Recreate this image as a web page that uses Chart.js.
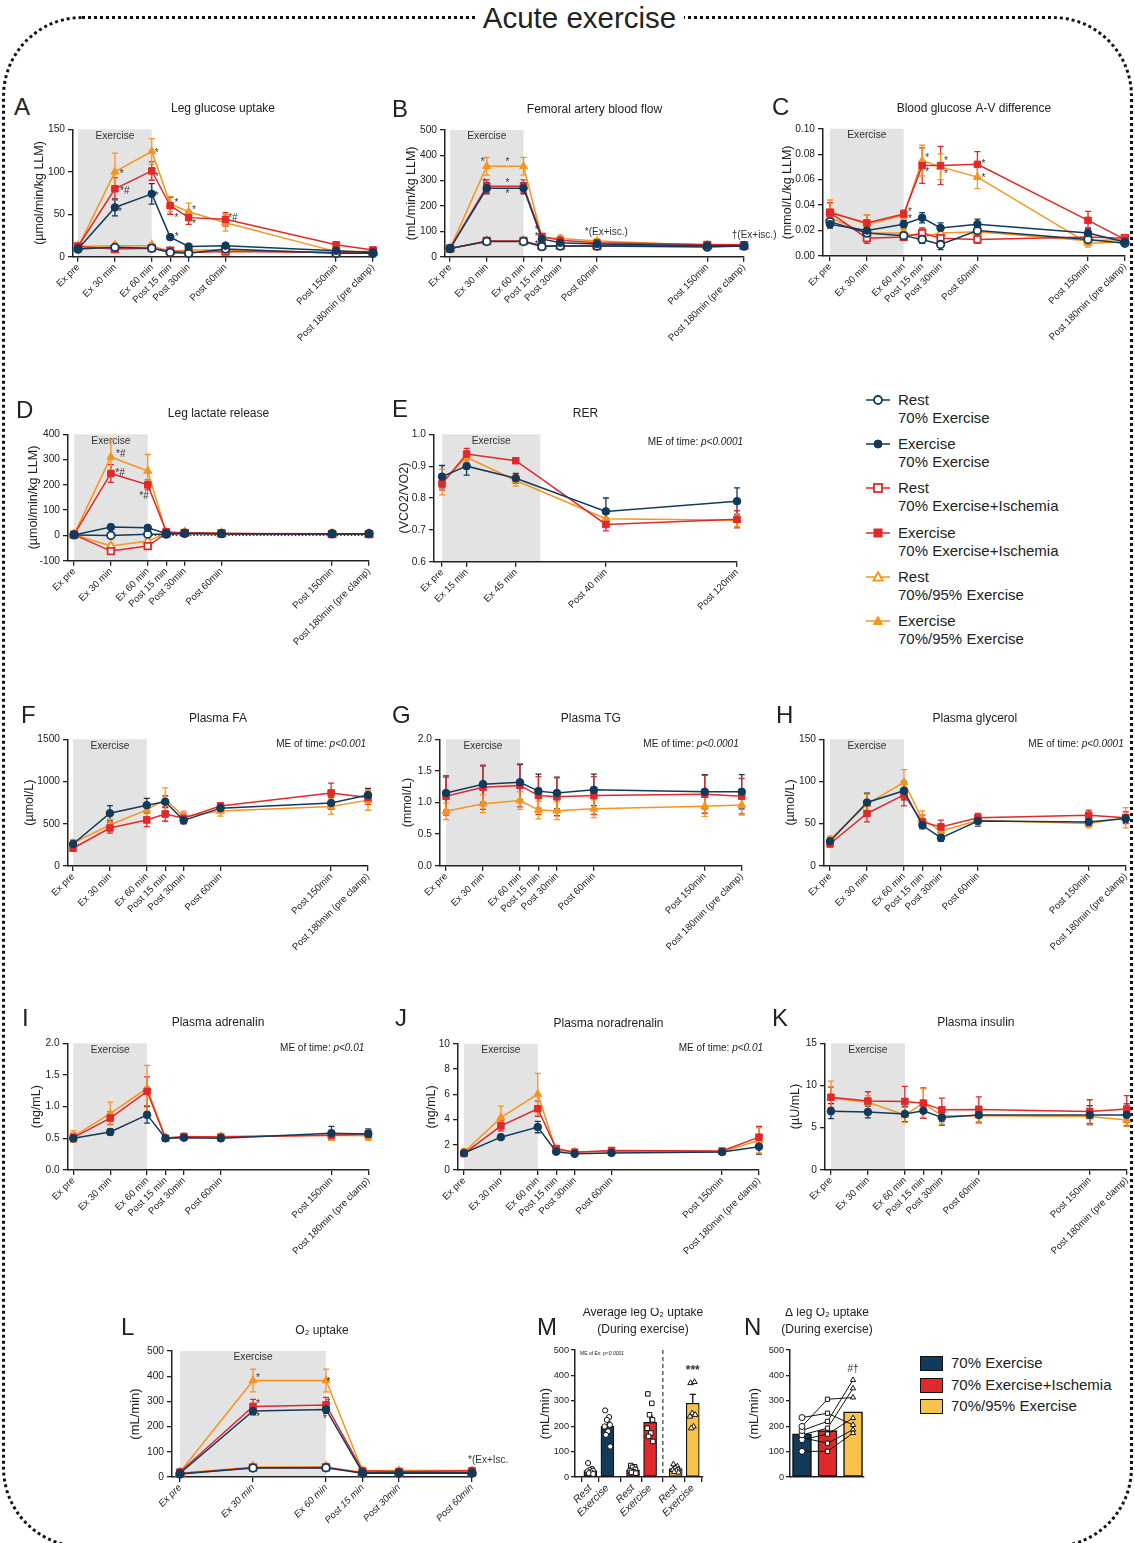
<!DOCTYPE html>
<html>
<head>
<meta charset="utf-8">
<script src="https://cdn.jsdelivr.net/npm/chart.js@4.4.1/dist/chart.umd.min.js"></script>
<style>
  body { margin: 0; background: #fff; font-family: "Liberation Sans", Arial, sans-serif; color: #222; }
  #page { position: relative; width: 1135px; height: 1543px; overflow: hidden; }
  .frame { position: absolute; left: 2px; top: 16px; width: 1125px; height: 1526px; border: 3px dotted #111; border-radius: 80px; }
  .head { position: absolute; left: 12px; top: 0; width: 1135px; text-align: center; font-size: 29.5px; line-height: 36px; }
  .head span { background: #fff; padding: 0 8px; }
  .letter { position: absolute; font-size: 24px; line-height: 24px; }
  canvas { position: absolute; }
  .lg { position: absolute; font-size: 15px; line-height: 18px; white-space: nowrap; }
  .box { position: absolute; width: 21px; height: 13px; border: 1px solid #111; }
</style>
</head>
<body>
<div id="page">
  <div class="frame"></div>
  <div class="head"><span>Acute exercise</span></div>
</div>
<script>
// time axes
const timeLabels = ['Ex pre', 'Ex 30 min', 'Ex 60 min', 'Post 15 min', 'Post 30min', 'Post 60min', 'Post 150min', 'Post 180min (pre clamp)'];
const timeMin = [0, 30, 60, 75, 90, 120, 210, 240];
const rerLabels = ['Ex pre', 'Ex 15 min', 'Ex 45 min', 'Post 40 min', 'Post 120min'];
const rerMin = [0, 15, 45, 100, 180];
const o2Labels = ['Ex pre', 'Ex 30 min', 'Ex 60 min', 'Post 15 min', 'Post 30min', 'Post 60min'];
const o2Min = [0, 30, 60, 75, 90, 120];

// A leg glucose uptake
const glucRest70 = [9, 11, 10, 5, 4, 9, 4, 4];
const glucRest70Err = [2, 2, 2, 1, 1, 2, 1, 1];
const glucEx70 = [9, 58, 74, 23, 12, 13, 7, 5];
const glucEx70Err = [2, 10, 12, 3, 2, 2, 2, 1];
const glucRestIsch = [12, 9, 10, 7, 5, 6, 5, 6];
const glucRestIschErr = [2, 2, 2, 2, 1, 2, 1, 1];
const glucExIsch = [12, 80, 101, 60, 46, 44, 14, 8];
const glucExIschErr = [2, 13, 11, 10, 8, 8, 3, 2];
const glucRest95 = [12, 13, 13, 6, 8, 8, 5, 5];
const glucRest95Err = [2, 3, 3, 2, 2, 2, 1, 1];
const glucEx95 = [11, 100, 124, 62, 53, 40, 6, 6];
const glucEx95Err = [2, 22, 15, 9, 10, 10, 2, 2];

// B femoral artery blood flow
const flowRest70 = [32, 60, 60, 40, 42, 42, 38, 42];
const flowEx70 = [32, 270, 270, 70, 55, 50, 43, 43];
const flowRestIsch = [32, 62, 62, 42, 43, 42, 45, 45];
const flowExIsch = [33, 278, 278, 80, 65, 55, 48, 47];
const flowRest95 = [32, 61, 61, 42, 42, 42, 42, 40];
const flowEx95 = [32, 357, 357, 75, 72, 62, 45, 42];
const flowRestErr = [4, 5, 5, 4, 4, 4, 4, 4];
const flowEx70Err = [4, 22, 22, 10, 8, 6, 5, 5];
const flowExIschErr = [4, 25, 25, 10, 10, 8, 6, 6];
const flowEx95Err = [4, 35, 35, 10, 12, 8, 6, 6];

// C blood glucose A-V difference
const avRest70 = [0.027, 0.018, 0.016, 0.013, 0.009, 0.020, 0.013, 0.010];
const avRest70Err = [0.003, 0.003, 0.003, 0.003, 0.004, 0.004, 0.003, 0.001];
const avEx70 = [0.025, 0.020, 0.025, 0.030, 0.022, 0.025, 0.018, 0.011];
const avEx70Err = [0.003, 0.003, 0.003, 0.004, 0.004, 0.004, 0.004, 0.001];
const avRestIsch = [0.034, 0.014, 0.015, 0.018, 0.014, 0.013, 0.015, 0.014];
const avRestIschErr = [0.008, 0.004, 0.003, 0.004, 0.004, 0.003, 0.003, 0.002];
const avExIsch = [0.034, 0.026, 0.033, 0.071, 0.071, 0.072, 0.028, 0.013];
const avExIschErr = [0.008, 0.006, 0.003, 0.014, 0.015, 0.010, 0.007, 0.003];
const avRest95 = [0.030, 0.018, 0.018, 0.015, 0.018, 0.019, 0.012, 0.013];
const avRest95Err = [0.005, 0.003, 0.003, 0.003, 0.003, 0.003, 0.003, 0.002];
const avEx95 = [0.035, 0.025, 0.032, 0.075, 0.070, 0.062, 0.010, 0.011];
const avEx95Err = [0.009, 0.007, 0.003, 0.012, 0.010, 0.009, 0.003, 0.003];

// D leg lactate release
const lactRest70 = [2, 0, 5, 5, 8, 7, 7, 7];
const lactRest70Err = [3, 4, 4, 3, 3, 3, 3, 3];
const lactEx70 = [2, 33, 30, 8, 8, 7, 7, 7];
const lactEx70Err = [3, 8, 6, 4, 4, 3, 3, 3];
const lactRestIsch = [3, -62, -42, 8, 10, 8, 5, 5];
const lactRestIschErr = [3, 8, 8, 4, 4, 3, 3, 3];
const lactExIsch = [3, 245, 200, 15, 10, 8, 7, 6];
const lactExIschErr = [3, 35, 20, 6, 4, 3, 3, 3];
const lactRest95 = [3, -42, -22, 8, 10, 8, 5, 5];
const lactRest95Err = [3, 10, 8, 4, 4, 3, 3, 3];
const lactEx95 = [3, 310, 255, 10, 12, 8, 6, 6];
const lactEx95Err = [3, 70, 65, 6, 5, 3, 3, 3];

// E RER
const rer70 = [0.867, 0.900, 0.862, 0.758, 0.790];
const rer70Err = [0.035, 0.028, 0.015, 0.042, 0.042];
const rerIsch = [0.845, 0.938, 0.917, 0.717, 0.733];
const rerIschErr = [0.02, 0.018, 0.005, 0.02, 0.027];
const rer95 = [0.850, 0.928, 0.855, 0.735, 0.730];
const rer95Err = [0.04, 0.015, 0.018, 0.02, 0.02];

// F plasma FA
const fa70 = [260, 625, 720, 760, 540, 685, 745, 840];
const fa70Err = [45, 90, 80, 70, 40, 50, 70, 80];
const faIsch = [210, 450, 545, 615, 565, 710, 865, 810];
const faIschErr = [30, 60, 80, 85, 60, 40, 115, 80];
const fa95 = [270, 485, 665, 790, 585, 650, 705, 780];
const fa95Err = [40, 70, 80, 135, 65, 60, 90, 120];

// G plasma TG
const tg70 = [1.15, 1.29, 1.32, 1.18, 1.15, 1.20, 1.17, 1.17];
const tg70Err = [0.27, 0.29, 0.28, 0.27, 0.25, 0.25, 0.27, 0.27];
const tgIsch = [1.10, 1.24, 1.27, 1.11, 1.09, 1.11, 1.13, 1.10];
const tgIschErr = [0.30, 0.35, 0.34, 0.30, 0.30, 0.30, 0.30, 0.28];
const tg95 = [0.86, 0.98, 1.03, 0.88, 0.87, 0.90, 0.94, 0.96];
const tg95Err = [0.13, 0.14, 0.14, 0.14, 0.14, 0.14, 0.16, 0.16];

// H plasma glycerol
const glyc70 = [29, 75, 89, 48, 33, 53, 52, 56];
const glyc70Err = [4, 11, 11, 4, 4, 6, 5, 5];
const glycIsch = [26, 62, 84, 52, 46, 57, 60, 57];
const glycIschErr = [4, 10, 13, 8, 8, 5, 6, 7];
const glyc95 = [31, 73, 99, 55, 41, 54, 50, 57];
const glyc95Err = [4, 12, 15, 10, 6, 6, 5, 12];

// I plasma adrenalin
const adr70 = [0.50, 0.60, 0.87, 0.50, 0.51, 0.50, 0.58, 0.57];
const adr70Err = [0.05, 0.05, 0.13, 0.03, 0.04, 0.04, 0.11, 0.08];
const adrIsch = [0.51, 0.82, 1.24, 0.50, 0.53, 0.52, 0.55, 0.57];
const adrIschErr = [0.07, 0.10, 0.23, 0.03, 0.03, 0.03, 0.06, 0.06];
const adr95 = [0.53, 0.89, 1.29, 0.51, 0.52, 0.53, 0.55, 0.54];
const adr95Err = [0.09, 0.18, 0.36, 0.03, 0.03, 0.03, 0.08, 0.07];

// J plasma noradrenalin
const nor70 = [1.35, 2.6, 3.4, 1.45, 1.28, 1.35, 1.42, 1.85];
const nor70Err = [0.15, 0.15, 0.45, 0.15, 0.12, 0.15, 0.15, 0.6];
const norIsch = [1.3, 3.5, 4.85, 1.7, 1.4, 1.55, 1.5, 2.6];
const norIschErr = [0.2, 0.4, 0.6, 0.2, 0.2, 0.2, 0.15, 0.85];
const nor95 = [1.4, 4.15, 6.0, 1.55, 1.45, 1.45, 1.45, 2.35];
const nor95Err = [0.3, 0.9, 1.65, 0.25, 0.25, 0.2, 0.15, 1.0];

// K plasma insulin
const ins70 = [6.95, 6.85, 6.6, 7.0, 6.2, 6.5, 6.5, 6.5];
const ins70Err = [0.9, 0.7, 0.9, 0.9, 0.9, 1.0, 1.1, 1.3];
const insIsch = [8.6, 8.15, 8.1, 7.9, 7.1, 7.15, 6.9, 7.2];
const insIschErr = [1.2, 1.1, 1.8, 1.8, 1.4, 1.5, 1.4, 1.6];
const ins95 = [8.5, 8.0, 6.5, 7.9, 6.4, 6.4, 6.3, 5.9];
const ins95Err = [2.0, 0.8, 0.9, 1.7, 1.0, 0.9, 1.0, 0.8];

// L O2 uptake
const o2Rest70 = [12, 36, 37, 15, 15, 15];
const o2Ex70 = [15, 262, 268, 18, 18, 18];
const o2RestIsch = [14, 37, 38, 17, 17, 17];
const o2ExIsch = [20, 280, 286, 25, 22, 25];
const o2Rest95 = [15, 40, 40, 18, 18, 18];
const o2Ex95 = [20, 383, 383, 25, 26, 26];
const o2RestErr = [3, 5, 5, 3, 3, 3];
const o2Ex70Err = [4, 15, 15, 5, 4, 4];
const o2ExIschErr = [5, 28, 30, 5, 4, 4];
const o2Ex95Err = [5, 45, 45, 5, 5, 4];

// M average leg O2 uptake during exercise
const mLabels = ['Rest', 'Exercise', 'Rest', 'Exercise', 'Rest', 'Exercise'];
const mMeans = [25, 200, 28, 215, 33, 290];
const mSem = [5, 20, 5, 25, 6, 35];
const mRest70Pts = [55, 32, 28, 25, 22, 18, 15, 12];
const mEx70Pts = [262, 236, 225, 205, 199, 180, 166, 120];
const mRestIschPts = [45, 40, 38, 30, 25, 20, 18, 15];
const mExIschPts = [327, 290, 245, 225, 192, 173, 160, 140];
const mRest95Pts = [50, 42, 35, 30, 28, 25, 20, 18];
const mEx95Pts = [370, 374, 251, 245, 238, 199, 192];

// N delta leg O2 uptake (paired by subject index)
const nMeans = [170, 183, 257];
const nEx70 = [234, 199, 183, 166, 147, 101, 155];
const nExIsch = [251, 306, 219, 192, 169, 101, 133];
const nEx95 = [205, 313, 382, 349, 232, 173, 186];

const legendLines = [['Rest', '70% Exercise'], ['Exercise', '70% Exercise'], ['Rest', '70% Exercise+Ischemia'],
  ['Exercise', '70% Exercise+Ischemia'], ['Rest', '70%/95% Exercise'], ['Exercise', '70%/95% Exercise']];
const barLegend = ['70% Exercise', '70% Exercise+Ischemia', '70%/95% Exercise'];

const FONT = '"Liberation Sans", Arial, sans-serif';
const INK = '#222';
const NAVY = '#123a5a', RED = '#e0292b', ORANGE = '#f7941d', GOLD = '#f8c24c';
const page = document.getElementById('page');

// shading, error bars, annotations
const decor = {
  id: 'decor',
  beforeDraw(c, args, o) {
    if (!o.shade) return;
    const {ctx, chartArea: a} = c, x = c.scales.x;
    const x0 = x.getPixelForValue(o.shade[0]), x1 = x.getPixelForValue(o.shade[1]);
    ctx.save();
    ctx.fillStyle = '#e3e3e3';
    ctx.fillRect(x0, a.top, x1 - x0, a.bottom - a.top);
    ctx.fillStyle = '#333';
    ctx.font = '10.2px ' + FONT;
    ctx.textAlign = 'center';
    ctx.textBaseline = 'middle';
    ctx.fillText('Exercise', (x0 + x1) / 2, a.top + 6.5);
    ctx.restore();
  },
  beforeDatasetsDraw(c, args, o) {
    const {ctx, chartArea: a} = c, x = c.scales.x, y = c.scales.y;
    ctx.save();
    if (o.zeroLine) {
      ctx.strokeStyle = '#333'; ctx.lineWidth = 1.2; ctx.setLineDash([1.5, 2]);
      ctx.beginPath();
      ctx.moveTo(x.getPixelForValue(o.zeroLine[0]), y.getPixelForValue(0));
      ctx.lineTo(x.getPixelForValue(o.zeroLine[1]), y.getPixelForValue(0));
      ctx.stroke(); ctx.setLineDash([]);
    }
    if (o.divider != null) {
      const px = x.getPixelForValue(o.divider);
      ctx.strokeStyle = '#111'; ctx.lineWidth = 1; ctx.setLineDash([4, 3]);
      ctx.beginPath(); ctx.moveTo(px, a.top); ctx.lineTo(px, a.bottom); ctx.stroke();
      ctx.setLineDash([]);
    }
    c.data.datasets.forEach((d, i) => {
      if (!d.err) return;
      const meta = c.getDatasetMeta(i);
      ctx.strokeStyle = d.errColor || d.borderColor;
      ctx.lineWidth = 1.3;
      meta.data.forEach((el, j) => {
        const e = d.err[j];
        if (!e) return;
        const v = d.data[j].y, px = el.x;
        const t = y.getPixelForValue(v + e), b = y.getPixelForValue(v - e);
        const cap = d.cap || 3;
        ctx.beginPath();
        ctx.moveTo(px, t); ctx.lineTo(px, b);
        ctx.moveTo(px - cap, t); ctx.lineTo(px + cap, t);
        ctx.moveTo(px - cap, b); ctx.lineTo(px + cap, b);
        ctx.stroke();
      });
    });
    ctx.restore();
  },
  afterDraw(c, args, o) {
    const {ctx, chartArea: a} = c, x = c.scales.x, y = c.scales.y;
    ctx.save();
    ctx.fillStyle = INK;
    ctx.textBaseline = 'middle';
    if (o.title) {
      const lines = [].concat(o.title);
      ctx.font = '12px ' + FONT;
      ctx.textAlign = 'center';
      lines.forEach((t, k) => ctx.fillText(t, (a.left + a.right) / 2 + (o.titleDx || 0), a.top - 20.5 - (lines.length - 1 - k) * 17));
    }
    if (o.me) {
      const sz = o.meSize || 10;
      ctx.font = 'italic ' + sz + 'px ' + FONT;
      const wi = ctx.measureText(o.me[1]).width;
      ctx.font = sz + 'px ' + FONT;
      const wp = ctx.measureText(o.me[0]).width;
      const xr = o.meLeft ? a.left + 5 + wp + wi : a.right + (o.meDx || 0);
      const yy = a.top + (o.meDy || 8);
      ctx.textAlign = 'right';
      ctx.fillText(o.me[0], xr - wi, yy);
      ctx.font = 'italic ' + sz + 'px ' + FONT;
      ctx.fillText(o.me[1], xr, yy);
    }
    (o.annos || []).forEach(([vx, vy, txt, align, bold]) => {
      ctx.font = (bold ? 'bold 12px ' : '10px ') + FONT;
      ctx.fillStyle = '#333';
      ctx.textAlign = align || 'center';
      ctx.fillText(txt, x.getPixelForValue(vx), y.getPixelForValue(vy) + (txt[0] === '*' && !align ? 2 : 0));
    });
    ctx.restore();
  }
};
Chart.register(decor);

function series(xs, vals, err, color, shape, open) {
  return {
    data: xs.map((t, i) => ({x: t, y: vals[i]})),
    err: err,
    borderColor: color,
    backgroundColor: color,
    borderWidth: 1.5,
    pointStyle: shape,
    pointRadius: shape === 'circle' ? 3.8 : 4.6,
    pointBackgroundColor: open ? '#fff' : color,
    pointBorderColor: color,
    pointBorderWidth: open ? 1.8 : 1,
    tension: 0,
    clip: false
  };
}

function place(box) {
  const cv = document.createElement('canvas');
  cv.width = box.w; cv.height = box.h;
  cv.style.left = box.l + 'px';
  cv.style.top = box.t + 'px';
  page.appendChild(cv);
  return cv;
}

function makeChart(p) {
  const a = p.area;
  const titleLH = p.ytitleSize * 1.2;
  const box = {l: Math.round(p.ytitleX - titleLH / 2), t: Math.round(a.top - 42)};
  box.w = Math.round(a.right + (p.padR || 36)) - box.l;
  box.h = Math.round(a.bottom + (p.padB || 90)) - box.t;
  const showX = !!p.xlabels;
  return new Chart(place(box), {
    type: p.type || 'line',
    data: {datasets: p.datasets},
    options: {
      responsive: false,
      animation: false,
      events: [],
      layout: {padding: {left: 0, bottom: 0, top: a.top - box.t, right: box.l + box.w - a.right}},
      plugins: {legend: {display: false}, tooltip: {enabled: false}, decor: p.decor},
      scales: {
        x: {
          type: 'linear', min: p.xmin, max: p.xmax, offset: false,
          afterBuildTicks: s => { s.ticks = p.xticks.map(v => ({value: v})); },
          afterFit: s => { s.height = box.t + box.h - a.bottom; },
          ticks: {
            display: showX, autoSkip: false, minRotation: 45, maxRotation: 45, padding: 0, color: INK,
            font: {family: FONT, size: p.xSize || 9.6, style: p.italic ? 'italic' : 'normal'},
            callback: v => showX ? p.xlabels[p.xticks.indexOf(v)] : ''
          },
          grid: {drawOnChartArea: false, drawTicks: showX, tickLength: 5, color: INK, lineWidth: 1.3},
          border: {color: INK, width: 1.5}
        },
        y: {
          min: p.ymin, max: p.ymax,
          afterFit: s => { s.width = a.left - box.l; },
          ticks: {stepSize: p.step, padding: p.yPad || 3, color: INK, font: {family: FONT, size: p.ySize || 10.2}, callback: v => v.toFixed(p.dec || 0)},
          title: {display: true, text: p.ytitle, color: INK, font: {family: FONT, size: p.ytitleSize}, padding: 0},
          grid: {drawOnChartArea: false, tickLength: p.yTick || 5, color: INK, lineWidth: 1.3},
          border: {color: INK, width: 1.5}
        }
      }
    }
  });
}

function sixSets(xs, r70, r70e, e70, e70e, ri, rie, ei, eie, r95, r95e, e95, e95e) {
  return [
    series(xs, e70, e70e, NAVY, 'circle', false),
    series(xs, r70, r70e, NAVY, 'circle', true),
    series(xs, ei, eie, RED, 'rect', false),
    series(xs, ri, rie, RED, 'rect', true),
    series(xs, e95, e95e, ORANGE, 'triangle', false),
    series(xs, r95, r95e, ORANGE, 'triangle', true)
  ];
}
function threeSets(xs, a, ae, b, be, c, ce) {
  return [
    series(xs, a, ae, NAVY, 'circle', false),
    series(xs, b, be, RED, 'rect', false),
    series(xs, c, ce, ORANGE, 'triangle', false)
  ];
}

const timeAxis = {xticks: timeMin, xlabels: timeLabels, xmax: 240, ytitleSize: 12.5};

// A
makeChart(Object.assign({}, timeAxis, {
  area: {left: 73, top: 129.3, right: 373, bottom: 256.7}, xmin: -4.1, ytitleX: 39,
  ymin: 0, ymax: 150, step: 50, ytitle: '(µmol/min/kg LLM)',
  datasets: sixSets(timeMin, glucRest70, glucRest70Err, glucEx70, glucEx70Err, glucRestIsch, glucRestIschErr,
    glucExIsch, glucExIschErr, glucRest95, glucRest95Err, glucEx95, glucEx95Err),
  decor: {shade: [0, 60], title: 'Leg glucose uptake', annos: [
    [35.5, 99, '*'], [38, 80, '*#'], [34, 55, '*'], [64, 124.5, '*'], [64, 96, '*'], [64, 74, '*'],
    [80, 65.6, '*'], [80, 48, '*'], [80.3, 24.7, '*'], [94.4, 57, '*'], [94.4, 40.5, '*'], [126, 48, '*#']]}
}));

// B
makeChart(Object.assign({}, timeAxis, {
  area: {left: 445, top: 130, right: 744, bottom: 256.7}, xmin: -4.1, ytitleX: 411,
  ymin: 0, ymax: 500, step: 100, ytitle: '(mL/min/kg LLM)',
  datasets: sixSets(timeMin, flowRest70, flowRestErr, flowEx70, flowEx70Err, flowRestIsch, flowRestErr,
    flowExIsch, flowExIschErr, flowRest95, flowRestErr, flowEx95, flowEx95Err),
  decor: {shade: [0, 60], title: 'Femoral artery blood flow', annos: [
    [26.7, 379, '*'], [46.8, 379, '*'], [27.8, 299, '*'], [46.8, 299, '*'], [27.8, 256, '*'], [46.8, 256, '*'],
    [70.8, 112, '*'], [70.8, 86, '*'], [70.8, 55, '*'],
    [110, 96, '*(Ex+isc.)', 'left'], [230, 83, '†(Ex+isc.)', 'left']]}
}));

// C
makeChart(Object.assign({}, timeAxis, {
  area: {left: 823, top: 128.7, right: 1125, bottom: 256}, xmin: -5.7, ytitleX: 787,
  ymin: 0, ymax: 0.10, step: 0.02, dec: 2, ytitle: '(mmol/L/kg LLM)', padR: 8,
  datasets: sixSets(timeMin, avRest70, avRest70Err, avEx70, avEx70Err, avRestIsch, avRestIschErr,
    avExIsch, avExIschErr, avRest95, avRest95Err, avEx95, avEx95Err),
  decor: {shade: [0, 60], title: 'Blood glucose A-V difference', annos: [
    [65, 0.0356, '*'], [65, 0.0304, '*'], [79.2, 0.078, '*'], [79.2, 0.0676, '*'],
    [94.4, 0.076, '*'], [94.4, 0.0654, '*'], [124.8, 0.0736, '*'], [124.8, 0.063, '*']]}
}));

// D
makeChart(Object.assign({}, timeAxis, {
  area: {left: 68, top: 434.3, right: 369, bottom: 560.7}, xmin: -4.9, ytitleX: 33,
  ymin: -100, ymax: 400, step: 100, ytitle: '(µmol/min/kg LLM)',
  datasets: sixSets(timeMin, lactRest70, lactRest70Err, lactEx70, lactEx70Err, lactRestIsch, lactRestIschErr,
    lactExIsch, lactExIschErr, lactRest95, lactRest95Err, lactEx95, lactEx95Err),
  decor: {shade: [0, 60], zeroLine: [60, 240], title: 'Leg lactate release', annos: [
    [38, 329, '*#'], [37.4, 255, '*#'], [57, 163, '*#']]}
}));

// E
makeChart({
  area: {left: 434, top: 434.3, right: 737, bottom: 561.7}, xmin: -4.9, xmax: 180, ytitleX: 404,
  xticks: rerMin, xlabels: rerLabels, ytitleSize: 12.5,
  ymin: 0.6, ymax: 1.0, step: 0.1, dec: 1, ytitle: '(VCO2/VO2)',
  datasets: threeSets(rerMin, rer70, rer70Err, rerIsch, rerIschErr, rer95, rer95Err),
  decor: {shade: [0, 60], title: 'RER', me: ['ME of time: ', 'p<0.0001'], meDx: 6, meDy: 8}
});

// F
makeChart(Object.assign({}, timeAxis, {
  area: {left: 68, top: 739.3, right: 368, bottom: 866}, xmin: -4.1, ytitleX: 29,
  ymin: 0, ymax: 1500, step: 500, ytitle: '(µmol/L)',
  datasets: threeSets(timeMin, fa70, fa70Err, faIsch, faIschErr, fa95, fa95Err),
  decor: {shade: [0, 60], title: 'Plasma FA', me: ['ME of time: ', 'p<0.001'], meDx: -2, meDy: 5}
}));

// G
makeChart(Object.assign({}, timeAxis, {
  area: {left: 440, top: 739.3, right: 741.7, bottom: 865.7}, xmin: -4.9, ytitleX: 407,
  ymin: 0, ymax: 2.0, step: 0.5, dec: 1, ytitle: '(mmol/L)',
  datasets: threeSets(timeMin, tg70, tg70Err, tgIsch, tgIschErr, tg95, tg95Err),
  decor: {shade: [0, 60], title: 'Plasma TG', me: ['ME of time: ', 'p<0.0001'], meDx: -3, meDy: 5}
}));

// H
makeChart(Object.assign({}, timeAxis, {
  area: {left: 824, top: 739.3, right: 1125.7, bottom: 865.7}, xmin: -4.9, ytitleX: 790, padR: 8,
  ymin: 0, ymax: 150, step: 50, ytitle: '(µmol/L)',
  datasets: threeSets(timeMin, glyc70, glyc70Err, glycIsch, glycIschErr, glyc95, glyc95Err),
  decor: {shade: [0, 60], title: 'Plasma glycerol', me: ['ME of time: ', 'p<0.0001'], meDx: -2, meDy: 5}
}));

// I
makeChart(Object.assign({}, timeAxis, {
  area: {left: 67.7, top: 1043.3, right: 368.3, bottom: 1170}, xmin: -4.6, ytitleX: 36,
  ymin: 0, ymax: 2.0, step: 0.5, dec: 1, ytitle: '(ng/mL)',
  datasets: threeSets(timeMin, adr70, adr70Err, adrIsch, adrIschErr, adr95, adr95Err),
  decor: {shade: [0, 60], title: 'Plasma adrenalin', me: ['ME of time: ', 'p<0.01'], meDx: -4, meDy: 5}
}));

// J
makeChart(Object.assign({}, timeAxis, {
  area: {left: 458, top: 1043.7, right: 759, bottom: 1170}, xmin: -4.9, ytitleX: 431,
  ymin: 0, ymax: 10, step: 2, ytitle: '(ng/mL)',
  datasets: threeSets(timeMin, nor70, nor70Err, norIsch, norIschErr, nor95, nor95Err),
  decor: {shade: [0, 60], title: 'Plasma noradrenalin', me: ['ME of time: ', 'p<0.01'], meDx: 4, meDy: 5}
}));

// K
makeChart(Object.assign({}, timeAxis, {
  area: {left: 825, top: 1043.3, right: 1126.7, bottom: 1169.7}, xmin: -4.8, ytitleX: 795, padR: 8,
  ymin: 0, ymax: 15, step: 5, ytitle: '(µU/mL)',
  datasets: threeSets(timeMin, ins70, ins70Err, insIsch, insIschErr, ins95, ins95Err),
  decor: {shade: [0, 60], title: 'Plasma insulin'}
}));

// L
makeChart({
  area: {left: 172, top: 1351, right: 472, bottom: 1477}, xmin: -3.3, xmax: 120, ytitleX: 136,
  xticks: o2Min, xlabels: o2Labels, italic: true, ytitleSize: 13, padB: 64,
  ymin: 0, ymax: 500, step: 100, ytitle: '(mL/min)',
  datasets: sixSets(o2Min, o2Rest70, o2RestErr, o2Ex70, o2Ex70Err, o2RestIsch, o2RestErr,
    o2ExIsch, o2ExIschErr, o2Rest95, o2RestErr, o2Ex95, o2Ex95Err),
  decor: {shade: [0, 60], title: 'O₂ uptake', annos: [
    [32, 400, '*'], [32, 297, '*'], [32, 245, '*'], [61, 383, '*'], [59.6, 236, '*'], [61, 300, '*'],
    [118.4, 67, '*(Ex+Isc.)', 'left']]}
});

// M
const mPos = [0, 1, 2.5, 3.5, 5, 6];
const jitter = [-0.24, 0.18, -0.06, 0.26, -0.3, 0.08, -0.16, 0.3];
const mGroups = [[mRest70Pts, 'circle'], [mEx70Pts, 'circle'], [mRestIschPts, 'rect'], [mExIschPts, 'rect'], [mRest95Pts, 'triangle'], [mEx95Pts, 'triangle']];
const mDatasets = mGroups.map(([pts, shape], g) => ({
  type: 'line', showLine: false, clip: false,
  data: pts.map((v, k) => ({x: mPos[g] + jitter[k] * 0.55, y: v})),
  pointStyle: shape, pointRadius: shape === 'circle' ? 2.6 : 3.2,
  pointBackgroundColor: '#fff', pointBorderColor: '#111', pointBorderWidth: 1
}));
mDatasets.push({
  type: 'bar', data: mPos.map((x, i) => ({x: x, y: mMeans[i]})), err: mSem, errColor: '#111', cap: 3,
  backgroundColor: [NAVY, NAVY, RED, RED, GOLD, GOLD], borderColor: '#111', borderWidth: 1.2,
  borderSkipped: false, barThickness: 13
});
makeChart({
  type: 'bar',
  area: {left: 575, top: 1350, right: 703, bottom: 1477}, xmin: -0.9, xmax: 6.6, ytitleX: 546,
  xticks: mPos, xlabels: mLabels, italic: true, xSize: 10.5, ytitleSize: 13, padR: 10, padB: 64,
  ySize: 9.2, yPad: 2, yTick: 4,
  ymin: 0, ymax: 500, step: 100, ytitle: '(mL/min)',
  datasets: mDatasets,
  decor: {title: ['Average leg O₂ uptake', '(During exercise)'], titleDx: 4, divider: 4.25,
    me: ['ME of Ex: ', 'p<0.0001'], meLeft: true, meSize: 5, meDy: 4,
    annos: [[6, 418, '***', 'center', true]]}
});

// N
const nPos = [0, 1, 2];
const nShapes = ['circle', 'rect', 'triangle'];
const nDatasets = nEx70.map((v, k) => ({
  type: 'line', clip: false,
  data: [{x: 0, y: v}, {x: 1, y: nExIsch[k]}, {x: 2, y: nEx95[k]}],
  borderColor: '#111', borderWidth: 1, tension: 0,
  pointStyle: nShapes, pointRadius: 3, pointBackgroundColor: '#fff', pointBorderColor: '#111', pointBorderWidth: 1
}));
nDatasets.push({
  type: 'bar', data: nPos.map((x, i) => ({x: x, y: nMeans[i]})),
  backgroundColor: [NAVY, RED, GOLD], borderColor: '#111', borderWidth: 1.5, borderSkipped: false, barThickness: 19
});
makeChart({
  type: 'bar',
  area: {left: 790, top: 1350, right: 864, bottom: 1477}, xmin: -0.47, xmax: 2.43, ytitleX: 755,
  xticks: nPos, xlabels: null, ytitleSize: 13, padR: 10, padB: 30,
  ySize: 9.2, yPad: 2, yTick: 4,
  ymin: 0, ymax: 500, step: 100, ytitle: '(mL/min)',
  datasets: nDatasets,
  decor: {title: ['Δ leg O₂ uptake', '(During exercise)'], annos: [[2, 425, '#†']]}
});

// panel letters
[['A', 14, 95], ['B', 392, 97], ['C', 772, 95], ['D', 16, 398], ['E', 392, 397], ['F', 21, 703],
 ['G', 392, 703], ['H', 776, 703], ['I', 22, 1006], ['J', 395, 1006], ['K', 772, 1006],
 ['L', 121, 1315], ['M', 537, 1315], ['N', 744, 1315]].forEach(([t, l, top]) => {
  const d = document.createElement('div');
  d.className = 'letter'; d.textContent = t;
  d.style.left = l + 'px'; d.style.top = top + 'px';
  page.appendChild(d);
});

// line legend
const legColors = [NAVY, NAVY, RED, RED, ORANGE, ORANGE];
const legShapes = ['circle', 'circle', 'rect', 'rect', 'triangle', 'triangle'];
const legRows = [400, 444, 488, 533, 577, 621];
function marker(color, shape, open) {
  const fill = open ? '#fff' : color;
  const sw = open ? 1.8 : 1;
  let m;
  if (shape === 'circle') m = `<circle cx="12" cy="7" r="4" fill="${fill}" stroke="${color}" stroke-width="${sw}"/>`;
  else if (shape === 'rect') m = `<rect x="8" y="3" width="8" height="8" fill="${fill}" stroke="${color}" stroke-width="${sw}"/>`;
  else m = `<polygon points="12,2.2 16.6,10.6 7.4,10.6" fill="${fill}" stroke="${color}" stroke-width="${sw}"/>`;
  return `<svg width="24" height="14" style="position:absolute;left:866px;top:0"><line x1="0" y1="7" x2="24" y2="7" stroke="${color}" stroke-width="1.5"/>${m}</svg>`;
}
legendLines.forEach((lines, i) => {
  const y = legRows[i];
  const s = document.createElement('div');
  s.innerHTML = marker(legColors[i], legShapes[i], i % 2 === 0);
  s.firstChild.style.top = (y - 7) + 'px';
  page.appendChild(s.firstChild);
  const t = document.createElement('div');
  t.className = 'lg';
  t.style.left = '898px'; t.style.top = (y - 9) + 'px';
  t.innerHTML = lines[0] + '<br>' + lines[1];
  page.appendChild(t);
});

// bar legend
const barColors = [NAVY, RED, GOLD];
barLegend.forEach((txt, i) => {
  const y = [1363, 1385, 1406][i];
  const b = document.createElement('div');
  b.className = 'box';
  b.style.left = '920px'; b.style.top = (y - 7) + 'px'; b.style.background = barColors[i];
  page.appendChild(b);
  const t = document.createElement('div');
  t.className = 'lg';
  t.style.left = '951px'; t.style.top = (y - 9) + 'px';
  t.textContent = txt;
  page.appendChild(t);
});
</script>
</body>
</html>
